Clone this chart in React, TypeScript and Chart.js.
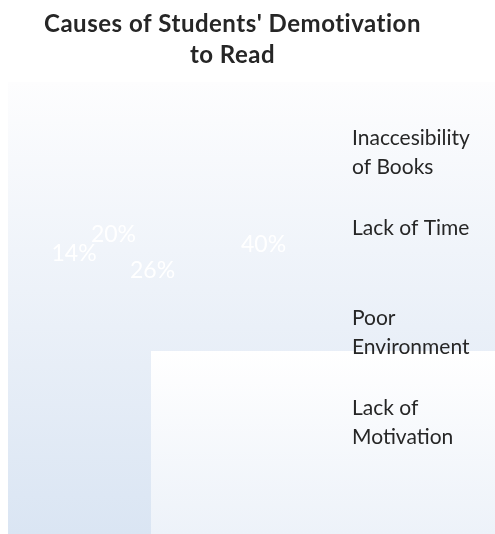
import { useEffect, useRef } from "react";
import { Chart, registerables } from "chart.js";

Chart.register(...registerables);

// ---- data ----
const TITLE_LINES = ["Causes of Students' Demotivation", "to Read"];
const CATEGORIES = [
  "Inaccesibility of Books",
  "Lack of Time",
  "Poor Environment",
  "Lack of Motivation",
];
const VALUES = [40, 26, 14, 20];

// ---- style / layout ----
const W = 495;
const H = 534;
const FONT = "Lato, 'Open Sans', 'DejaVu Sans', sans-serif";
const TEXT = "#262626";
const LABEL_SQUASH_X = 0.975;
const LABEL_SQUASH_Y = 0.2;

const backgroundPlugin = {
  id: "panelBackground",
  beforeDraw(chart: any) {
    const ctx = chart.ctx;
    ctx.save();
    ctx.fillStyle = "#ffffff";
    ctx.fillRect(0, 0, W, H);
    const g1 = ctx.createLinearGradient(0, 82, 0, H);
    g1.addColorStop(0, "#fdfdfe");
    g1.addColorStop(1, "#dae5f3");
    ctx.fillStyle = g1;
    ctx.fillRect(8, 82, W - 8, H - 82);
    const g2 = ctx.createLinearGradient(0, 351, 0, H);
    g2.addColorStop(0, "#ffffff");
    g2.addColorStop(1, "#edf2f9");
    ctx.fillStyle = g2;
    ctx.fillRect(151, 351, W - 151, H - 351);
    ctx.restore();
  },
};

const titlePlugin = {
  id: "customTitle",
  afterDraw(chart: any) {
    const ctx = chart.ctx;
    ctx.save();
    ctx.font = `bold 24px ${FONT}`;
    (ctx as any).letterSpacing = "0.5px";
    ctx.fillStyle = TEXT;
    ctx.textAlign = "center";
    ctx.textBaseline = "alphabetic";
    const baselines = [32, 63];
    TITLE_LINES.forEach((line, i) => ctx.fillText(line, 232.5, baselines[i]));
    ctx.restore();
  },
};

function wrapText(ctx: CanvasRenderingContext2D, text: string, maxW: number) {
  const words = text.split(" ");
  const lines: string[] = [];
  let cur = "";
  for (const w of words) {
    const test = cur ? cur + " " + w : w;
    if (cur && ctx.measureText(test).width > maxW) {
      lines.push(cur);
      cur = w;
    } else cur = test;
  }
  if (cur) lines.push(cur);
  return lines;
}

const legendPlugin = {
  id: "customLegend",
  afterDraw(chart: any) {
    const ctx = chart.ctx;
    ctx.save();
    ctx.font = `21px ${FONT}`;
    ctx.fillStyle = TEXT;
    ctx.textAlign = "left";
    ctx.textBaseline = "alphabetic";
    const labels: string[] = chart.data.labels;
    labels.forEach((lab, i) => {
      const lines = wrapText(ctx, lab, 138);
      const y0 = 145 + i * 90;
      lines.forEach((ln, j) => ctx.fillText(ln, 352, y0 + j * 29));
    });
    ctx.restore();
  },
};

const sliceLabelPlugin = {
  id: "sliceLabels",
  afterDatasetsDraw(chart: any) {
    const ctx = chart.ctx;
    const meta = chart.getDatasetMeta(0);
    const data: number[] = chart.data.datasets[0].data;
    const total = data.reduce((a, b) => a + b, 0);
    ctx.save();
    ctx.font = `23px ${FONT}`;
    ctx.fillStyle = "#ffffff";
    ctx.textAlign = "center";
    ctx.textBaseline = "middle";
    meta.data.forEach((arc: any, i: number) => {
      const p = arc.getProps(["x", "y", "startAngle", "endAngle", "outerRadius"], true);
      const mid = (p.startAngle + p.endAngle) / 2;
      const x = p.x + Math.cos(mid) * p.outerRadius * LABEL_SQUASH_X;
      const y = p.y + Math.sin(mid) * p.outerRadius * LABEL_SQUASH_Y;
      const pct = Math.round((data[i] / total) * 100) + "%";
      ctx.fillText(pct, x, y + 1);
    });
    ctx.restore();
  },
};

export default function App() {
  const ref = useRef<HTMLCanvasElement | null>(null);
  useEffect(() => {
    if (!ref.current) return;
    const chart = new Chart(ref.current, {
      type: "pie",
      data: {
        labels: CATEGORIES,
        datasets: [
          {
            data: VALUES,
            backgroundColor: "rgba(0,0,0,0)",
            borderWidth: 0,
          },
        ],
      },
      options: {
        responsive: false,
        animation: false,
        layout: { padding: { left: 70.8, right: 224.2, top: 150, bottom: 184 } },
        plugins: {
          legend: { display: false },
          title: { display: false },
          tooltip: { enabled: false },
        },
      },
      plugins: [backgroundPlugin, sliceLabelPlugin, titlePlugin, legendPlugin],
    });
    return () => chart.destroy();
  }, []);
  return (
    <div style={{ position: "absolute", left: 0, top: 0, width: W, height: H }}>
      <canvas ref={ref} width={W} height={H} style={{ display: "block" }} />
    </div>
  );
}
